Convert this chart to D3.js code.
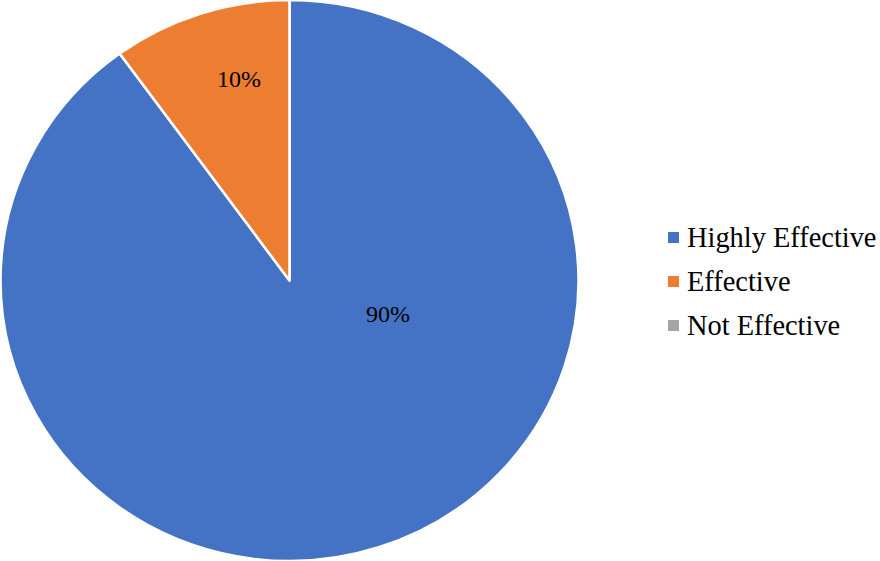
<!DOCTYPE html>
<html>
<head>
<meta charset="utf-8">
<script src="https://cdn.jsdelivr.net/npm/d3@7"></script>
<style>
  html, body { margin: 0; padding: 0; background: #fff; }
  svg { display: block; }
  text { font-family: "Liberation Serif", "Times New Roman", serif; fill: #000; }
</style>
</head>
<body>
<div id="chart"></div>
<script>
// Data
const categories = ['Highly Effective', 'Effective', 'Not Effective'];
const shares = [90, 10, 0];
const colors = ['#4472C4', '#ED7D31', '#A5A5A5'];

const width = 880;
const height = 561;

// Pie is slightly wider than tall in the reference
const cx = 289.5, cy = 280.5;
const ry = 280.5, rx = 289;

const svg = d3.select('#chart')
    .append('svg')
    .attr('width', width)
    .attr('height', height);

// Clockwise from 12 o'clock, in data order
const pie = d3.pie()
    .value(d => d.value)
    .sort(null);

const data = categories.map((c, i) => ({ name: c, value: shares[i], color: colors[i] }));
const arcs = pie(data);

const arc = d3.arc().innerRadius(0).outerRadius(ry);

const g = svg.append('g')
    .attr('transform', `translate(${cx},${cy}) scale(${rx / ry},1)`);

g.selectAll('path.slice')
    .data(arcs.filter(d => d.value > 0))
    .enter()
    .append('path')
    .attr('class', 'slice')
    .attr('d', arc)
    .attr('fill', d => d.data.color)
    .attr('stroke', '#fff')
    .attr('stroke-width', 2.5)
    .attr('stroke-linejoin', 'round');

// Label placement (Excel puts them a bit off the centroid)
function labelPos(d) {
    let angle, r;
    if (d.value > 50) {
        angle = Math.PI * 0.605;
        r = ry * 0.36;
    } else {
        angle = d.startAngle + (d.endAngle - d.startAngle) * 0.62;
        r = ry * 0.74;
    }
    const c = d3.arc().innerRadius(r).outerRadius(r).centroid({ startAngle: angle, endAngle: angle });
    return [cx + c[0] * rx / ry, cy + c[1]];
}

svg.selectAll('text.pct')
    .data(arcs.filter(d => d.value > 0))
    .enter()
    .append('text')
    .attr('class', 'pct')
    .attr('text-anchor', 'middle')
    .attr('dy', '0.35em')
    .style('font-size', '24px')
    .attr('x', d => labelPos(d)[0])
    .attr('y', d => labelPos(d)[1])
    .text(d => d.value + '%');

// Legend
const legend = svg.append('g')
    .attr('transform', 'translate(668,237.5)');

const rows = legend.selectAll('g.row')
    .data(data)
    .enter()
    .append('g')
    .attr('class', 'row')
    .attr('transform', (d, i) => `translate(0,${i * 44})`);

rows.append('rect')
    .attr('x', 0)
    .attr('y', -5.5)
    .attr('width', 11)
    .attr('height', 11)
    .attr('fill', d => d.color);

rows.append('text')
    .attr('x', 19)
    .attr('dy', '0.35em')
    .style('font-size', '28.4px')
    .text(d => d.name);
</script>
</body>
</html>
